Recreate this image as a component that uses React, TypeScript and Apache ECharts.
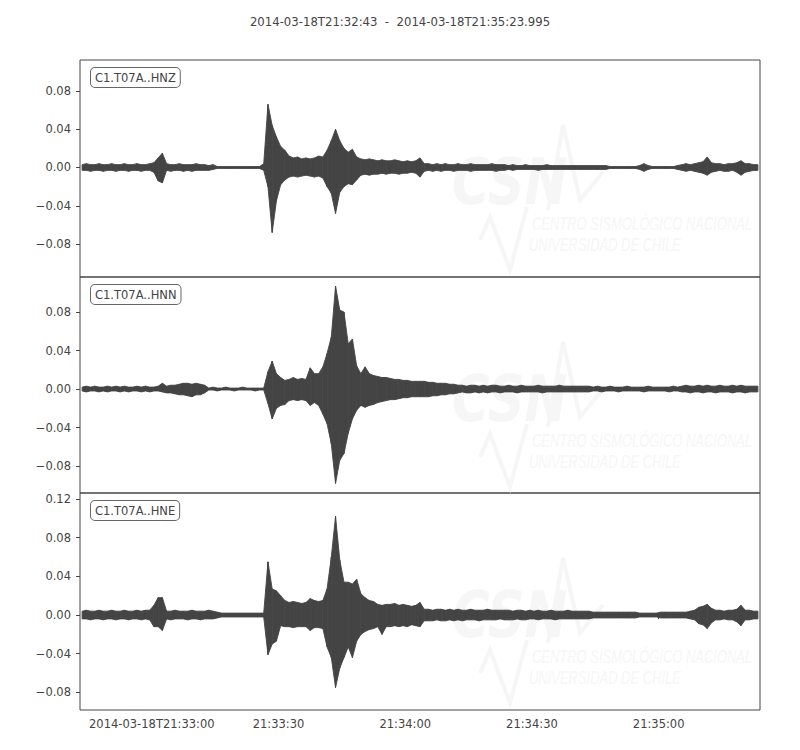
import React, { useEffect, useRef } from "react";
import * as echarts from "echarts";

// Time axis: seconds after 21:00:00 on 2014-03-18
const START_SEC = 1963; // 21:32:43
const END_SEC = 2123.995; // 21:35:23.995
const TITLE = "2014-03-18T21:32:43  -  2014-03-18T21:35:23.995";
const TRACE_NAMES = ["C1.T07A..HNZ", "C1.T07A..HNN", "C1.T07A..HNE"];
const X_TICKS = [1980, 2010, 2040, 2070, 2100];
const Y_TICKS = [
  [-0.08, -0.04, 0, 0.04, 0.08],
  [-0.08, -0.04, 0, 0.04, 0.08],
  [-0.08, -0.04, 0, 0.04, 0.08, 0.12],
];
const Y_MIN = [-0.1145, -0.108, -0.0982];
const Y_MAX = [0.1124, 0.1164, 0.1262];

// Per-second envelope (max / min) of each trace, in units of 0.001
const HNZ_MAX = [
  3, 4, 3, 3, 4, 3, 3, 4, 3, 3,
  4, 3, 3, 4, 3, 3, 4, 5, 10, 15,
  4, 3, 3, 4, 3, 3, 3, 4, 3, 3, 2, 3,
  1, 1, 1, 1, 1, 1, 1, 1, 1, 1, 1,
  4, 66, 44, 32, 22, 18,
  12, 10, 11, 9, 10, 9, 10, 12, 11,
  18, 28, 40, 28, 20, 16, 19, 11,
  9, 8, 9, 8, 7, 8, 7, 7, 8, 7, 6, 7, 6, 7,
  10,
  4, 4, 3, 4, 3, 4, 3, 3, 4, 3, 3, 4, 3, 3, 3, 3, 4, 3, 3, 3, 2, 3,
  2, 2, 3, 2, 2, 2, 2, 3, 2, 2, 2, 2, 2, 2, 2, 2, 2, 2, 2, 2, 2, 2,
  1, 1, 1, 1, 1, 1, 1, 2, 4, 2, 1, 1, 1, 1, 1, 1, 2,
  3, 4, 3, 4, 5, 6, 11, 5, 4, 4, 3, 4, 4, 5, 7, 4, 4, 3, 3,
];
const HNZ_MIN = [
  -3, -3, -4, -3, -3, -4, -3, -3, -4, -3,
  -3, -4, -3, -3, -4, -3, -3, -5, -14, -16,
  -3, -4, -3, -3, -4, -3, -4, -3, -3, -3, -3, -2,
  -1, -1, -1, -1, -1, -1, -1, -1, -1, -1, -1,
  -3, -20, -68, -35, -18, -13,
  -10, -9, -10, -9, -8, -9, -10, -9, -11,
  -20, -27, -48, -26, -20, -17, -18, -13,
  -8, -7, -8, -7, -7, -6, -7, -6, -6, -7, -6, -6, -5, -6,
  -10,
  -4, -3, -4, -3, -4, -3, -3, -4, -3, -3, -3, -4, -3, -3, -3, -3, -3, -4, -3, -3, -2, -3,
  -2, -2, -2, -2, -2, -3, -2, -2, -2, -2, -2, -2, -2, -2, -2, -2, -2, -2, -2, -2, -2, -2,
  -1, -1, -1, -1, -1, -1, -1, -2, -4, -2, -1, -1, -1, -1, -1, -1, -2,
  -3, -4, -3, -4, -5, -6, -8, -5, -4, -3, -4, -4, -3, -5, -8, -5, -4, -3, -3,
];
const HNN_MAX = [
  2, 3, 2, 3, 2, 2, 3, 2, 3, 2, 3, 2, 2, 3, 2, 3, 2, 2, 3,
  6, 3, 4, 4, 5, 6, 6, 5, 6, 5, 4,
  1, 2, 1, 1, 2, 1, 1, 1, 2, 1, 1, 1, 1, 1,
  18, 29, 16, 12, 9,
  10, 12, 10, 11, 10,
  22, 16, 16, 23, 37, 54, 107, 82, 80, 47, 52, 24, 16, 23, 16,
  14, 13, 12, 12, 11, 10, 10, 9, 9, 8, 8, 8,
  8, 7, 7, 6, 6, 6, 5, 5,
  4, 4, 3, 4, 4, 3, 4, 3, 4, 4, 3, 3, 4, 3, 3, 4, 3, 3, 3, 4, 3, 3, 3, 3, 4, 3, 3, 3, 3, 3, 3, 3,
  2, 3, 2, 2, 3, 2, 2, 2, 3, 2, 2, 2, 2, 3, 2, 2, 2, 2, 2, 3, 2,
  3, 4, 3, 3, 4, 3, 4, 3, 3, 4, 3, 3, 4, 3, 4, 3, 3, 3, 3,
];
const HNN_MIN = [
  -2, -3, -2, -2, -3, -2, -3, -2, -2, -3, -2, -3, -2, -2, -3, -2, -3, -2, -2,
  -3, -4, -4, -5, -6, -6, -7, -8, -6, -6, -4,
  -1, -1, -2, -1, -1, -1, -2, -1, -1, -1, -1, -2, -1, -1,
  -15, -31, -20, -17, -16,
  -12, -11, -12, -11, -12,
  -17, -14, -17, -26, -36, -57, -98, -74, -67, -46, -31, -22, -17, -19, -17,
  -16, -14, -13, -12, -11, -11, -10, -9, -9, -8, -8, -8,
  -8, -8, -7, -7, -6, -6, -5, -5,
  -4, -3, -4, -4, -3, -4, -3, -4, -3, -3, -4, -3, -3, -3, -4, -3, -3, -3, -3, -3, -4, -3, -3, -3, -3, -3, -3, -3, -3, -3, -3, -3,
  -2, -2, -3, -2, -2, -2, -3, -2, -2, -2, -2, -2, -3, -2, -2, -2, -2, -2, -3, -2, -2,
  -3, -3, -4, -3, -3, -4, -3, -3, -4, -3, -3, -3, -4, -3, -3, -4, -3, -3, -3,
];
const HNE_MAX = [
  4, 5, 4, 4, 5, 4, 4, 5, 4, 4, 5, 4, 4, 5, 4, 5,
  5, 10, 18, 18,
  4, 4, 5, 4, 4, 4, 5, 4, 4, 4, 5, 4, 3,
  2, 2, 2, 2, 2, 2, 2, 2, 2, 2, 2,
  55, 27, 25, 20,
  15, 13, 14, 13, 12, 13,
  17, 15, 14, 15,
  27, 60, 102, 57, 34, 34, 32, 37, 22,
  18, 15, 14,
  11, 10, 11, 11, 12, 10, 11, 10, 9, 10, 13,
  6, 6, 5, 6, 6, 5, 6, 5, 6, 5, 5, 6, 5, 5, 5, 6, 5, 5, 5, 5,
  5, 4, 5, 5, 4, 5, 4, 5, 4, 4, 5, 4, 4, 4, 5, 4, 4, 4, 4, 4,
  3, 3, 3, 3, 3, 3, 3, 3, 3, 3, 3, 2, 2, 2, 2, 2, 3, 3, 3, 3, 3, 3, 3, 4, 5,
  8, 9, 11, 7,
  5, 5, 4, 5, 5, 6, 10, 5, 5, 4, 4,
];
const HNE_MIN = [
  -4, -4, -5, -4, -4, -5, -4, -4, -5, -4, -4, -5, -4, -4, -5, -4,
  -5, -12, -12, -16,
  -4, -5, -4, -4, -4, -5, -4, -4, -5, -4, -4, -4, -3,
  -2, -2, -2, -2, -2, -2, -2, -2, -2, -2, -2,
  -41, -30, -27, -11,
  -12, -12, -13, -12, -12, -12,
  -16, -13, -13, -14,
  -33, -44, -75, -55, -44, -33, -44, -27, -20,
  -17, -15, -14,
  -12, -20, -12, -12, -11, -12, -11, -12, -10, -11, -12,
  -6, -6, -6, -5, -6, -6, -5, -6, -5, -6, -5, -5, -5, -6, -5, -5, -5, -5, -4, -5,
  -5, -5, -4, -5, -5, -4, -4, -5, -4, -4, -4, -5, -4, -4, -4, -4, -4, -4, -4, -4,
  -3, -3, -3, -3, -3, -3, -3, -3, -3, -3, -3, -2, -2, -2, -2, -2, -3, -3, -3, -3, -3, -3, -3, -4, -5,
  -9, -10, -14, -8,
  -5, -5, -4, -5, -5, -7, -11, -5, -5, -4, -4,
];

const TRACES = [
  [HNZ_MAX, HNZ_MIN],
  [HNN_MAX, HNN_MIN],
  [HNE_MAX, HNE_MIN],
];

const FONT = "DejaVu Sans";
const INK = "#444444";

// one item per pair of consecutive one-second bins: [t0, max0, min0, t1, max1, min1]
function envelopeItems(maxs: number[], mins: number[]) {
  const items: number[][] = [];
  const n = Math.min(maxs.length, mins.length);
  for (let i = 0; i < n - 1; i++) {
    items.push([
      START_SEC + i + 0.5,
      maxs[i] / 1000,
      mins[i] / 1000,
      START_SEC + i + 1.5,
      maxs[i + 1] / 1000,
      mins[i + 1] / 1000,
    ]);
  }
  return items;
}

function renderEnvelope(_params: any, api: any) {
  const a = api.coord([api.value(0), api.value(1)]);
  const b = api.coord([api.value(3), api.value(4)]);
  const c = api.coord([api.value(3), api.value(5)]);
  const d = api.coord([api.value(0), api.value(2)]);
  return {
    type: "polygon",
    shape: { points: [a, b, c, d] },
    style: {
      fill: INK,
      stroke: INK,
      lineWidth: 0.9,
      lineJoin: "bevel",
    },
  };
}

function pad(n: number) {
  return n < 10 ? "0" + n : "" + n;
}

function timeLabel(v: number) {
  const s = Math.round(v);
  const hh = 21 + Math.floor(s / 3600);
  const mm = Math.floor((s % 3600) / 60);
  const ss = s % 60;
  const t = `${pad(hh)}:${pad(mm)}:${pad(ss)}`;
  return s === X_TICKS[0] ? "2014-03-18T" + t : t;
}

function yLabel(v: number) {
  const a = Math.abs(v).toFixed(2);
  return v < -1e-9 ? "\u2212" + a : a;
}

const GRID_TOPS = [60, 277, 493];
const GRID_HEIGHTS = [217, 216, 217];

function watermark(top: number) {
  const c = "#f6f6f6";
  return [
    {
      type: "text",
      x: 452,
      y: top + 97,
      scaleX: 0.8,
      z: 0,
      silent: true,
      style: {
        text: "CSN",
        fill: c,
        font: `italic bold 64px ${FONT}`,
        lineHeight: 50,
        verticalAlign: "top",
      },
    },
    {
      type: "polyline",
      z: 0,
      silent: true,
      shape: {
        points: [
          [548, top + 150],
          [563, top + 65],
          [580, top + 140],
          [603, top + 112],
        ],
      },
      style: { stroke: c, lineWidth: 4, fill: null },
    },
    {
      type: "polyline",
      z: 0,
      silent: true,
      shape: {
        points: [
          [480, top + 180],
          [490, top + 157],
          [510, top + 210],
          [527, top + 147],
        ],
      },
      style: { stroke: c, lineWidth: 4, fill: null },
    },
    {
      type: "text",
      x: 532,
      y: top + 156,
      scaleX: 0.72,
      z: 0,
      silent: true,
      style: {
        text: "CENTRO SISMOLÓGICO NACIONAL",
        fill: c,
        font: `italic 18px "Liberation Sans"`,
        lineHeight: 16,
        verticalAlign: "top",
      },
    },
    {
      type: "text",
      x: 529,
      y: top + 177,
      scaleX: 0.72,
      z: 0,
      silent: true,
      style: {
        text: "UNIVERSIDAD DE CHILE",
        fill: c,
        font: `italic 18px "Liberation Sans"`,
        lineHeight: 16,
        verticalAlign: "top",
      },
    },
  ];
}

export default function App() {
  const ref = useRef<HTMLDivElement>(null);

  useEffect(() => {
    if (!ref.current) return;
    const chart = echarts.init(ref.current, null, { renderer: "svg" });

    const grids = GRID_TOPS.map((top, i) => ({
      left: 80,
      width: 680,
      top,
      height: GRID_HEIGHTS[i],
      show: true,
      borderColor: INK,
      borderWidth: 1,
      backgroundColor: "transparent",
      containLabel: false,
    }));

    const xAxes = GRID_TOPS.map((_, i) => {
      const last = i === GRID_TOPS.length - 1;
      return {
        type: "value",
        gridIndex: i,
        min: START_SEC,
        max: END_SEC,
        axisLine: { show: false },
        splitLine: { show: false },
        axisTick: {
          show: last,
          customValues: X_TICKS,
          length: 4,
          lineStyle: { color: INK, width: 1 },
        },
        axisLabel: {
          show: last,
          customValues: X_TICKS,
          formatter: timeLabel,
          margin: 8,
          color: INK,
          fontSize: 11.5,
          fontFamily: FONT,
        },
      };
    });

    const yAxes = GRID_TOPS.map((_, i) => ({
      type: "value",
      gridIndex: i,
      min: Y_MIN[i],
      max: Y_MAX[i],
      axisLine: { show: false },
      splitLine: { show: false },
      axisTick: {
        show: true,
        customValues: Y_TICKS[i],
        length: 4,
        lineStyle: { color: INK, width: 1 },
      },
      axisLabel: {
        customValues: Y_TICKS[i],
        formatter: yLabel,
        margin: 9,
        color: INK,
        fontSize: 11.5,
        fontFamily: FONT,
      },
    }));

    const series = TRACES.map(([mx, mn], i) => ({
      type: "custom",
      xAxisIndex: i,
      yAxisIndex: i,
      data: envelopeItems(mx, mn),
      renderItem: renderEnvelope,
      encode: { x: [0, 3], y: [1, 2, 4, 5] },
      clip: true,
      silent: true,
      z: 3,
    }));

    const labels = GRID_TOPS.map((top, i) => ({
      type: "text",
      left: 90,
      top: top + 7,
      z: 100,
      style: {
        text: TRACE_NAMES[i],
        fill: INK,
        font: `11.5px ${FONT}`,
        backgroundColor: "#ffffff",
        borderColor: "#666666",
        borderWidth: 1,
        borderRadius: 4,
        padding: [4, 4, 3, 4],
      },
    }));

    const marks: any[] = [];
    GRID_TOPS.forEach((t) => marks.push(...watermark(t)));

    chart.setOption({
      animation: false,
      backgroundColor: "#ffffff",
      title: {
        text: TITLE,
        left: "center",
        top: 11,
        textStyle: {
          color: INK,
          fontSize: 11.7,
          fontWeight: "normal",
          fontFamily: FONT,
        },
      },
      grid: grids,
      xAxis: xAxes,
      yAxis: yAxes,
      series,
      graphic: [...marks, ...labels],
    });

    return () => chart.dispose();
  }, []);

  return (
    <div
      ref={ref}
      style={{ position: "fixed", left: 0, top: 0, width: 800, height: 750 }}
    />
  );
}
